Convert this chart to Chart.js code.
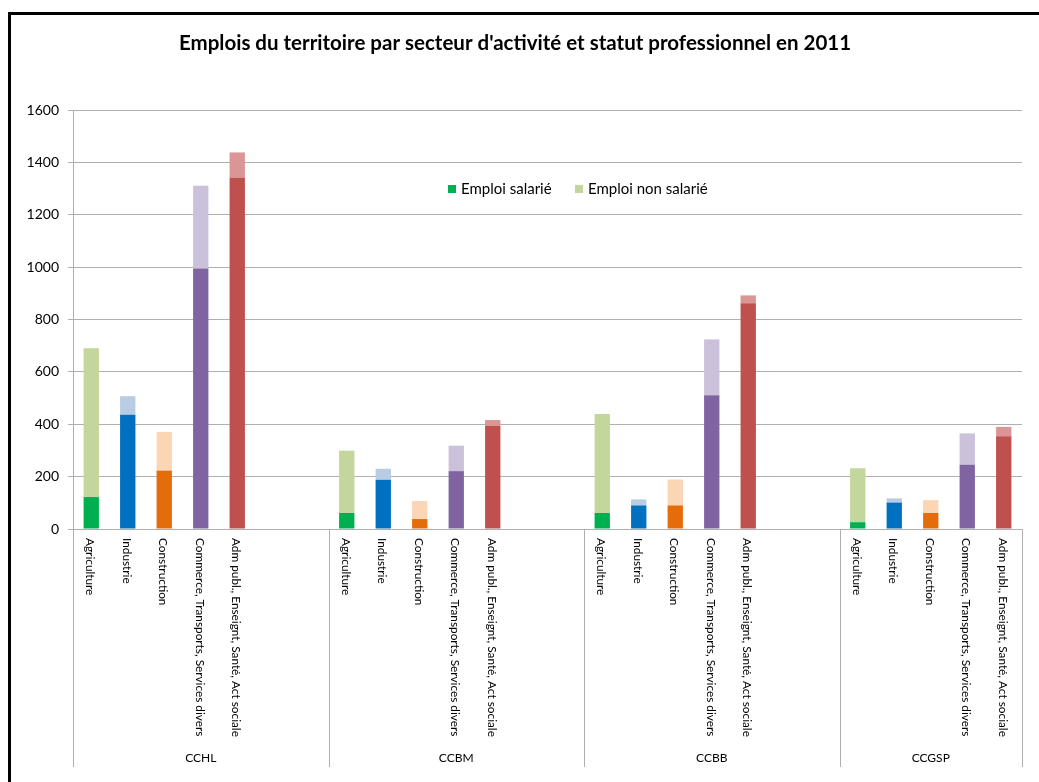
<!DOCTYPE html>
<html lang="fr">
<head>
    <meta charset="UTF-8">
    <title>Emplois du territoire par secteur d'activité</title>
    <script src="https://cdn.jsdelivr.net/npm/chart.js"></script>
    <style>
        body { margin: 0; background: #fff; overflow: hidden; }
        canvas { display: block; }
    </style>
</head>
<body>
    <canvas id="emploiChart" width="1039" height="782"></canvas>

    <script>
        // Territoires et secteurs
        const groupNames = ['CCHL', 'CCBM', 'CCBB', 'CCGSP'];
        const sectors = ['Agriculture', 'Industrie', 'Construction',
            'Commerce, Transports, Services divers', 'Adm publ., Enseignt, Santé, Act sociale'];

        // Emploi salarié par territoire (même ordre que sectors)
        const salarieCCHL = [122, 436, 223, 995, 1341];
        const salarieCCBM = [61, 188, 38, 221, 394];
        const salarieCCBB = [61, 90, 90, 511, 862];
        const salarieCCGSP = [26, 101, 61, 245, 354];

        // Emploi non salarié par territoire
        const nonSalarieCCHL = [568, 71, 148, 316, 97];
        const nonSalarieCCBM = [238, 42, 69, 97, 22];
        const nonSalarieCCBB = [378, 23, 99, 213, 30];
        const nonSalarieCCGSP = [206, 16, 49, 120, 36];

        const yTicks = [0, 200, 400, 600, 800, 1000, 1200, 1400, 1600];

        // couleurs par secteur
        const salarieColors = ['#00B050', '#0070C0', '#E46C0A', '#8064A2', '#C0504D'];
        const nonSalarieColors = ['#C3D69B', '#B8CCE4', '#FCD5B5', '#CCC1DA', '#D99694'];

        const salarieGroups = [salarieCCHL, salarieCCBM, salarieCCBB, salarieCCGSP];
        const nonSalarieGroups = [nonSalarieCCHL, nonSalarieCCBM, nonSalarieCCBB, nonSalarieCCGSP];
        const gapSlots = 2; // cases vides entre territoires

        // Build flat category list with empty slots between groups
        const labels = [], dataSal = [], dataNon = [], colSal = [], colNon = [], groupStart = [];
        groupNames.forEach((g, gi) => {
            groupStart.push(labels.length);
            sectors.forEach((s, si) => {
                labels.push(s);
                dataSal.push(salarieGroups[gi][si]);
                dataNon.push(nonSalarieGroups[gi][si]);
                colSal.push(salarieColors[si]);
                colNon.push(nonSalarieColors[si]);
            });
            if (gi < groupNames.length - 1) {
                for (let k = 0; k < gapSlots; k++) {
                    labels.push('');
                    dataSal.push(null);
                    dataNon.push(null);
                    colSal.push('#fff');
                    colNon.push('#fff');
                }
            }
        });
        groupStart.push(labels.length);

        const FONT = 'Lato, "Liberation Sans", sans-serif';
        const gridColor = '#b0b0b0';

        // Titre, légende, étiquettes verticales et territoires
        const decorPlugin = {
            id: 'decor',
            afterDraw(chart) {
                const ctx = chart.ctx;
                const x = chart.scales.x;
                const area = chart.chartArea;
                ctx.save();

                // frame
                ctx.fillStyle = '#000';
                ctx.fillRect(8, 12, 3, 782);
                ctx.fillRect(8, 12, 1039, 3);

                // title
                ctx.fillStyle = '#000';
                ctx.font = 'bold 20.5px ' + FONT;
                ctx.textAlign = 'center';
                ctx.textBaseline = 'alphabetic';
                ctx.fillText("Emplois du territoire par secteur d'activité et statut professionnel en 2011", 515, 50);

                // legend
                ctx.font = '15px ' + FONT;
                ctx.textAlign = 'left';
                ctx.textBaseline = 'middle';
                ctx.fillStyle = salarieColors[0];
                ctx.fillRect(448, 185, 8, 8);
                ctx.fillStyle = '#000';
                ctx.fillText('Emploi salarié', 461, 189);
                ctx.fillStyle = nonSalarieColors[0];
                ctx.fillRect(575, 185, 8, 8);
                ctx.fillStyle = '#000';
                ctx.fillText('Emploi non salarié', 588, 189);

                // rotated category labels
                ctx.font = '11.8px ' + FONT;
                ctx.fillStyle = '#000';
                labels.forEach((lab, i) => {
                    if (!lab) return;
                    const px = x.getPixelForValue(i);
                    ctx.save();
                    ctx.translate(px - 1, area.bottom + 9);
                    ctx.rotate(Math.PI / 2);
                    ctx.textAlign = 'left';
                    ctx.textBaseline = 'middle';
                    ctx.fillText(lab, 0, 0);
                    ctx.restore();
                });

                // group separators and names
                const slot = x.getPixelForValue(1) - x.getPixelForValue(0);
                ctx.strokeStyle = gridColor;
                ctx.lineWidth = 1;
                ctx.textAlign = 'center';
                ctx.textBaseline = 'middle';
                ctx.font = '12px ' + FONT;
                for (let gi = 0; gi <= groupNames.length; gi++) {
                    const idx = groupStart[gi];
                    const px = Math.round(x.getPixelForValue(0) - slot / 2 + idx * slot) + 0.5;
                    ctx.beginPath();
                    ctx.moveTo(px, area.bottom);
                    ctx.lineTo(px, 767);
                    ctx.stroke();
                }
                groupNames.forEach((g, gi) => {
                    const a = x.getPixelForValue(0) - slot / 2 + groupStart[gi] * slot;
                    const b = x.getPixelForValue(0) - slot / 2 + groupStart[gi + 1] * slot;
                    ctx.fillText(g, (a + b) / 2, 758);
                });
                ctx.restore();
            }
        };

        const ctx = document.getElementById('emploiChart').getContext('2d');
        const emploiChart = new Chart(ctx, {
            type: 'bar',
            data: {
                labels: labels,
                datasets: [{
                    label: 'Emploi salarié',
                    data: dataSal,
                    backgroundColor: colSal,
                    barPercentage: 0.42,
                    categoryPercentage: 1
                }, {
                    label: 'Emploi non salarié',
                    data: dataNon,
                    backgroundColor: colNon,
                    barPercentage: 0.42,
                    categoryPercentage: 1
                }]
            },
            options: {
                responsive: false,
                animation: false,
                devicePixelRatio: 1,
                layout: { padding: { left: 0, top: 110, right: 17, bottom: 0 } },
                plugins: {
                    legend: { display: false },
                    title: { display: false },
                    tooltip: { enabled: false }
                },
                scales: {
                    x: {
                        stacked: true,
                        grid: { display: false },
                        border: { display: true, color: gridColor },
                        ticks: { display: false },
                        afterFit: s => { s.height = 253; }
                    },
                    y: {
                        stacked: true,
                        min: yTicks[0],
                        max: yTicks[yTicks.length - 1],
                        afterBuildTicks: s => { s.ticks = yTicks.map(v => ({ value: v })); },
                        grid: { color: gridColor, tickLength: 5 },
                        border: { color: gridColor },
                        ticks: {
                            padding: 9,
                            color: '#000',
                            font: { family: FONT, size: 14 },
                            callback: v => String(v)
                        },
                        afterFit: s => { s.width = 73; }
                    }
                }
            },
            plugins: [decorPlugin]
        });
    </script>
</body>
</html>
